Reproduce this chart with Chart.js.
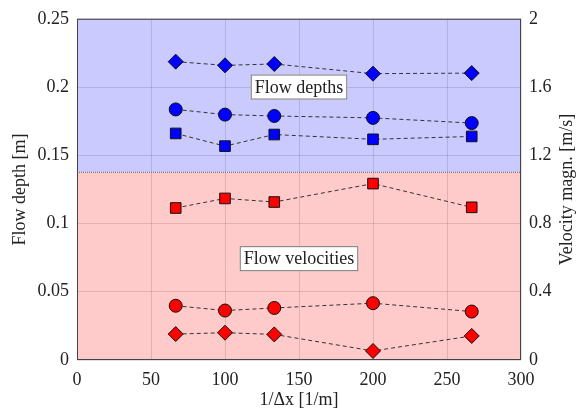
<!DOCTYPE html>
<html>
<head>
<meta charset="utf-8">
<script src="https://cdn.jsdelivr.net/npm/chart.js@4.4.1/dist/chart.umd.min.js"></script>
<style>
  body { margin: 0; background: #fff; }
  #wrap { width: 577px; height: 415px; }
</style>
</head>
<body>
<div id="wrap"><canvas id="chart" width="577" height="415"></canvas></div>
<script>
    // grid resolution 1/dx (x axis)
    const invDx = [66.7, 100, 133.3, 200, 266.7];

    // flow depths [m], left axis
    const depthDiamond = [0.2186, 0.2159, 0.2169, 0.2098, 0.2102];
    const depthCircle = [0.1836, 0.1798, 0.1788, 0.1774, 0.1736];
    const depthSquare = [0.1660, 0.1567, 0.1652, 0.1617, 0.1638];

    // velocity magnitudes [m/s], right axis
    const velSquare = [0.891, 0.947, 0.926, 1.034, 0.895];
    const velCircle = [0.318, 0.290, 0.305, 0.333, 0.284];
    const velDiamond = [0.152, 0.160, 0.150, 0.053, 0.141];

    // tick labels / regions
    const xTicks = [0, 50, 100, 150, 200, 250, 300];
    const splitVelocity = 1.1;   // border between the two shaded regions (right axis)
    const regionLabels = [
        { text: 'Flow depths', x: 150, y: 0.2, axis: 'y' },
        { text: 'Flow velocities', x: 150, y: 0.594, axis: 'y2' }
    ];

    const serif = '"Liberation Serif", "DejaVu Serif", serif';
    const blue = 'rgb(0,0,255)';
    const red = 'rgb(255,0,0)';

    // short tick labels: 0.2 not 0.20, 2 not 2.0
    const shortNum = v => String(+Number(v).toFixed(2));

    const makeSet = (vals, color, style, radius, axis) => ({
        data: vals.map((v, i) => ({ x: invDx[i], y: v })),
        yAxisID: axis,
        borderColor: '#333',
        borderWidth: 1,
        borderDash: [4, 3],
        pointStyle: style,
        pointRadius: radius,
        pointHoverRadius: radius,
        pointBackgroundColor: color,
        pointBorderColor: '#111',
        pointBorderWidth: 1,
        fill: false,
        tension: 0
    });

    // background regions, split line, label boxes and right title
    const decorPlugin = {
        id: 'decor',
        beforeDraw(chart) {
            const { ctx, chartArea: a, scales } = chart;
            const ySplit = scales.y2.getPixelForValue(splitVelocity);
            ctx.save();
            ctx.fillStyle = 'rgb(202,202,255)';
            ctx.fillRect(a.left, a.top, a.right - a.left, ySplit - a.top);
            ctx.fillStyle = 'rgb(255,202,202)';
            ctx.fillRect(a.left, ySplit, a.right - a.left, a.bottom - ySplit);
            ctx.restore();
        },
        afterDatasetsDraw(chart) {
            const { ctx, chartArea: a, scales } = chart;
            const ySplit = scales.y2.getPixelForValue(splitVelocity);
            ctx.save();
            ctx.strokeStyle = '#666';
            ctx.lineWidth = 1;
            ctx.setLineDash([1, 1]);
            ctx.beginPath();
            ctx.moveTo(a.left, ySplit);
            ctx.lineTo(a.right, ySplit);
            ctx.stroke();
            ctx.setLineDash([]);

            // box around the plot
            ctx.strokeStyle = '#444';
            ctx.strokeRect(a.left + 0.5, a.top + 0.5, a.right - a.left - 1, a.bottom - a.top - 1);

            ctx.font = '18px ' + serif;
            ctx.textAlign = 'center';
            ctx.textBaseline = 'middle';
            regionLabels.forEach(lbl => {
                const px = scales.x.getPixelForValue(lbl.x);
                const py = scales[lbl.axis].getPixelForValue(lbl.y);
                const w = ctx.measureText(lbl.text).width + 8;
                const h = 25;
                ctx.fillStyle = '#fff';
                ctx.fillRect(px - w / 2, py - h / 2, w, h);
                ctx.strokeStyle = '#777';
                ctx.strokeRect(px - w / 2 + 0.5, py - h / 2 + 0.5, w - 1, h - 1);
                ctx.fillStyle = '#222';
                ctx.fillText(lbl.text, px, py + 1);
            });

            // right axis title, reading bottom to top
            ctx.translate(chart.width - 10, (a.top + a.bottom) / 2);
            ctx.rotate(-Math.PI / 2);
            ctx.fillText('Velocity magn. [m/s]', 0, 0);
            ctx.restore();
        }
    };

    const ctx = document.getElementById('chart').getContext('2d');

    new Chart(ctx, {
        type: 'line',
        data: {
            datasets: [
                makeSet(depthDiamond, blue, 'rectRot', 7.5, 'y'),
                makeSet(depthCircle, blue, 'circle', 6.5, 'y'),
                makeSet(depthSquare, blue, 'rect', 7.5, 'y'),
                makeSet(velSquare, red, 'rect', 7.5, 'y2'),
                makeSet(velCircle, red, 'circle', 6.5, 'y2'),
                makeSet(velDiamond, red, 'rectRot', 7.5, 'y2')
            ]
        },
        options: {
            responsive: false,
            animation: false,
            layout: { padding: { top: 10, left: 0, right: 0, bottom: 0 } },
            plugins: {
                legend: { display: false },
                tooltip: { enabled: false }
            },
            scales: {
                x: {
                    type: 'linear',
                    min: 0,
                    max: 300,
                    afterBuildTicks: s => { s.ticks = xTicks.map(v => ({ value: v })); },
                    afterFit: s => { s.height = 55; },
                    grid: { color: 'rgba(0,0,0,0.12)', drawTicks: false },
                    border: { display: false },
                    ticks: { padding: 9, color: '#222', font: { family: serif, size: 18 } },
                    title: {
                        display: true,
                        text: '1/Δx [1/m]',
                        color: '#222',
                        font: { family: serif, size: 18 },
                        padding: { top: 0, bottom: 4 }
                    }
                },
                y: {
                    position: 'left',
                    min: 0,
                    max: 0.25,
                    ticks: { stepSize: 0.05, padding: 8, color: '#222', font: { family: serif, size: 18 }, callback: shortNum },
                    afterFit: s => { s.width = 77; },
                    grid: { color: 'rgba(0,0,0,0.12)', drawTicks: false },
                    border: { display: false },
                    title: {
                        display: true,
                        text: 'Flow depth [m]',
                        color: '#222',
                        font: { family: serif, size: 18 },
                        padding: { top: 9, bottom: 0 }
                    }
                },
                y2: {
                    position: 'right',
                    min: 0,
                    max: 2,
                    ticks: { stepSize: 0.4, padding: 8, color: '#222', font: { family: serif, size: 18 }, callback: shortNum },
                    afterFit: s => { s.width = 56; },
                    grid: { drawOnChartArea: false, drawTicks: false },
                    border: { display: false }
                }
            }
        },
        plugins: [decorPlugin]
    });
</script>
</body>
</html>
